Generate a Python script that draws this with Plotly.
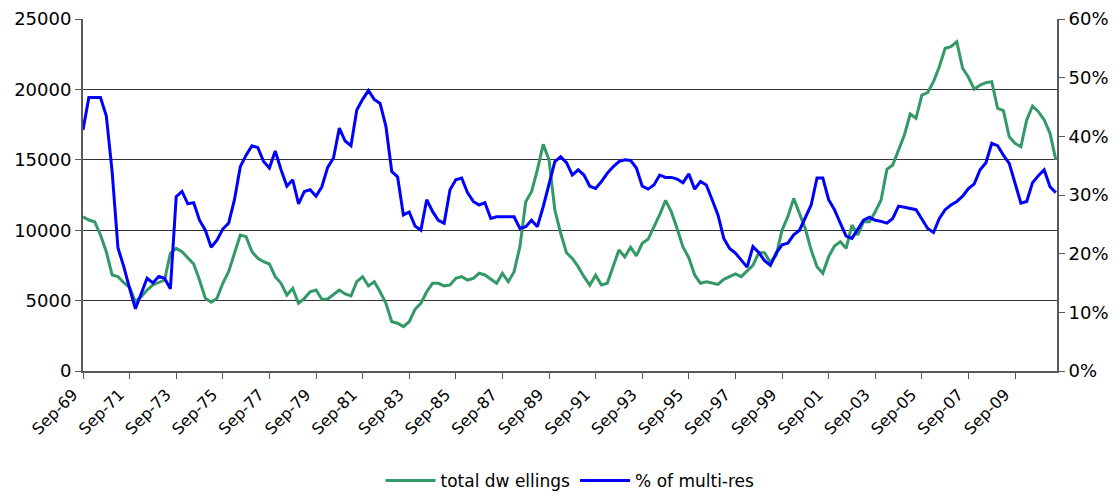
import plotly.graph_objects as go

# Quarterly total dwellings (left axis) and share of multi-residential (right axis, %)
total_dwellings = [
    10960, 10720, 10600, 9660, 8470, 6820, 6700, 6270, 5940, 4920,
    5280, 5750, 6110, 6270, 6460, 8360, 8710, 8470, 8000, 7600,
    6460, 5160, 4880, 5160, 6230, 7050, 8360, 9660, 9540, 8470,
    8000, 7760, 7600, 6700, 6230, 5400, 5870, 4810, 5160, 5630,
    5750, 5090, 5110, 5400, 5750, 5470, 5330, 6340, 6700, 6040,
    6340, 5630, 4810, 3500, 3390, 3150, 3500, 4380, 4810, 5630,
    6230, 6230, 6040, 6110, 6580, 6700, 6460, 6580, 6940, 6820,
    6510, 6230, 6940, 6340, 7050, 8830, 12020, 12730, 14280, 16100,
    14990, 11430, 9780, 8400, 8000, 7410, 6700, 6100, 6800, 6110,
    6230, 7350, 8590, 8100, 8780, 8180, 9070, 9350, 10200, 11100,
    12120, 11300, 10100, 8800, 8050, 6820, 6230, 6340, 6250, 6150,
    6510, 6700, 6900, 6700, 7100, 7500, 8400, 8400, 7700, 8240,
    10010, 10960, 12260, 11200, 10100, 8590, 7410, 6940, 8120, 8880,
    9180, 8710, 10370, 9660, 10600, 10600, 11310, 12140, 14320, 14630,
    15650, 16760, 18250, 17950, 19600, 19770, 20550, 21610, 22920, 23030,
    23390, 21500, 20860, 20010, 20310, 20480, 20550, 18660, 18490, 16640,
    16170, 15930, 17830, 18820, 18420, 17830, 16880, 14990,
]

multi_res_pct = [
    41.1, 46.6, 46.6, 46.6, 43.5, 34.0, 21.0, 17.8, 14.1, 10.6,
    13.2, 15.8, 15.0, 16.1, 15.8, 14.0, 29.7, 30.6, 28.5, 28.7,
    25.7, 24.0, 21.1, 22.3, 24.2, 25.2, 29.2, 34.8, 36.8, 38.4,
    38.1, 35.7, 34.6, 37.5, 34.3, 31.5, 32.6, 28.5, 30.6, 30.9,
    29.8, 31.4, 34.7, 36.3, 41.4, 39.2, 38.4, 44.5, 46.3, 47.8,
    46.3, 45.6, 41.7, 34.0, 33.1, 26.6, 27.1, 24.7, 24.0, 29.2,
    27.2, 25.7, 25.2, 30.9, 32.6, 32.9, 30.4, 28.9, 28.3, 28.7,
    26.0, 26.3, 26.3, 26.3, 26.3, 24.3, 24.6, 25.7, 24.6, 28.0,
    32.0, 35.7, 36.5, 35.5, 33.4, 34.3, 33.4, 31.5, 31.1, 32.3,
    33.7, 34.8, 35.7, 36.0, 35.9, 34.6, 31.5, 31.0, 31.7, 33.4,
    33.0, 33.0, 32.7, 32.1, 33.6, 31.0, 32.3, 31.7, 29.2, 26.6,
    22.6, 20.9, 20.1, 18.9, 17.7, 21.2, 20.2, 18.8, 18.0, 20.1,
    21.5, 21.8, 23.2, 24.0, 26.3, 28.3, 32.9, 32.9, 29.2, 27.5,
    25.2, 23.0, 22.6, 24.2, 25.7, 26.2, 25.7, 25.5, 25.2, 26.0,
    28.1, 27.9, 27.7, 27.5, 25.9, 24.3, 23.6, 26.0, 27.5, 28.3,
    28.9, 29.8, 31.1, 31.9, 34.3, 35.5, 38.8, 38.4, 36.8, 35.4,
    32.0, 28.6, 28.9, 32.1, 33.3, 34.3, 31.4, 30.4,
]

tick_labels = [
    "Sep-69", "Sep-71", "Sep-73", "Sep-75", "Sep-77", "Sep-79", "Sep-81",
    "Sep-83", "Sep-85", "Sep-87", "Sep-89", "Sep-91", "Sep-93", "Sep-95",
    "Sep-97", "Sep-99", "Sep-01", "Sep-03", "Sep-05", "Sep-07", "Sep-09",
]

series_names = ["total dw ellings", "% of multi-res"]

# Quarter categories, starting Sep-69
months = ["Sep", "Dec", "Mar", "Jun"]
quarters = []
for k in range(len(total_dwellings)):
    yr = 1969 + (k + 2) // 4
    quarters.append(f"{months[k % 4]}-{yr % 100:02d}")

GREEN = "#339966"
BLUE = "#0000FF"
AXIS = "#5a5a5a"
FONT = "DejaVu Sans"

fig = go.Figure()
fig.add_trace(go.Scatter(
    x=quarters, y=total_dwellings, name=series_names[0], mode="lines",
    line=dict(color=GREEN, width=3), yaxis="y",
))
fig.add_trace(go.Scatter(
    x=quarters, y=multi_res_pct, name=series_names[1], mode="lines",
    line=dict(color=BLUE, width=3), yaxis="y2",
))

fig.update_layout(
    width=1120, height=496,
    margin=dict(l=83, r=63, t=19, b=125, autoexpand=False),
    paper_bgcolor="white", plot_bgcolor="white",
    font=dict(family=FONT, size=17, color="black"),
    showlegend=True,
    legend=dict(
        orientation="h", x=0.5, xanchor="center", y=-0.3125, yanchor="middle",
        font=dict(family=FONT, size=17), itemwidth=50,
    ),
    xaxis=dict(
        type="category", range=[0, 167.2], automargin=False,
        tickmode="array", tickvals=tick_labels, ticktext=tick_labels,
        tickangle=-45, ticks="outside", ticklen=6, tickcolor=AXIS,
        tickfont=dict(family=FONT, size=16), ticklabelshift=-10,
        showline=True, linecolor=AXIS, linewidth=2,
        showgrid=False, zeroline=False,
    ),
    yaxis=dict(
        range=[0, 25000], dtick=5000, tickformat="d", automargin=False,
        ticks="outside", ticklen=6, tickcolor=AXIS,
        tickfont=dict(family=FONT, size=18),
        showline=True, linecolor=AXIS, linewidth=2,
        showgrid=True, gridcolor="#333333", gridwidth=1,
        zeroline=False,
    ),
    yaxis2=dict(
        overlaying="y", side="right", anchor="x", automargin=False,
        range=[0, 60], dtick=10, ticksuffix="%",
        ticks="outside", ticklen=6, tickcolor=AXIS,
        tickfont=dict(family=FONT, size=18),
        showline=True, linecolor=AXIS, linewidth=2,
        showgrid=False, zeroline=False,
    ),
)

fig.write_html("out.html")
